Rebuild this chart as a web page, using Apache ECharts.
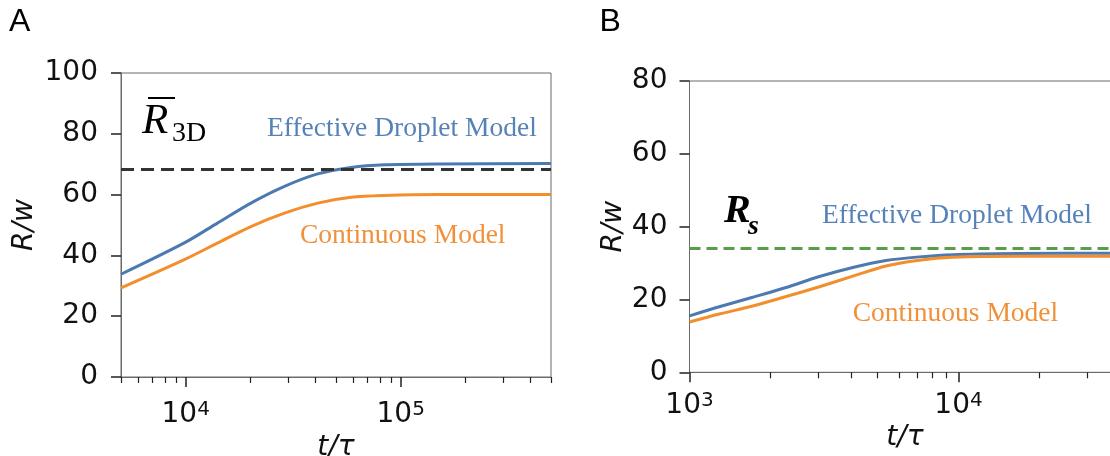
<!DOCTYPE html>
<html>
<head>
<meta charset="utf-8">
<script src="https://cdn.jsdelivr.net/npm/echarts@6/dist/echarts.min.js"></script>
<style>
html,body{margin:0;padding:0;background:#fff;overflow:hidden;}
#main{width:1140px;height:456px;}
</style>
</head>
<body>
<div id="main"></div>
<script>
// ---- Panel A data ----
const tA = [5000, 9850, 14100, 20100, 28800, 41100, 58800, 84000, 150000, 500000];
const edmA = [33.8, 44.1, 50.7, 57.2, 62.7, 66.8, 68.9, 69.8, 70.1, 70.2];
const contA = [29.3, 38.6, 44.1, 49.5, 53.9, 57.2, 59.1, 59.7, 60.0, 60.0];
const refA = 68.5;
const xRangeA = [5000, 500000];
const yRangeA = [0, 100];
const majorTicksA = [10000, 100000];
const minorTicksA = [5000, 6000, 7000, 8000, 9000, 20000, 30000, 40000, 50000, 60000, 70000, 80000, 90000, 200000, 300000, 400000, 500000];

// ---- Panel B data ----
const tB = [1000, 1290, 1718, 2286, 3040, 4045, 5375, 7150, 9500, 16800, 35300, 40000];
const edmB = [15.5, 18.0, 20.6, 23.3, 26.3, 28.8, 30.7, 31.7, 32.3, 32.6, 32.7, 32.7];
const contB = [13.8, 16.0, 18.2, 20.8, 23.5, 26.4, 29.2, 30.8, 31.6, 31.9, 31.9, 31.9];
const refB = 34.1;
const xRangeB = [1000, 40000];
const yRangeB = [0, 80];
const majorTicksB = [1000, 10000];
const minorTicksB = [2000, 3000, 4000, 5000, 6000, 7000, 8000, 9000, 20000, 30000, 40000];

const yTickStep = 20;

const BLUE = '#4c7ab0', ORANGE = '#f28e2b', BLUE_T = '#5582b8', ORANGE_T = '#f0913a';
const GREEN = '#5a9c48', DARK = '#333333';
const SANS = '"DejaVu Sans"';
const SERIF = '"Liberation Serif"';

function pair(xs, ys) { return xs.map((x, i) => [x, ys[i]]); }
function supLabel(v) { return '{b|10}{s|' + Math.round(Math.log10(v)) + '}'; }

const richSup = {
  b: {fontFamily: SANS, fontSize: 28, lineHeight: 30, color: '#111'},
  s: {fontFamily: SANS, fontSize: 20, lineHeight: 16, verticalAlign: 'top', color: '#111'}
};

function mainX(grid, range, majors, margin, nameGap) {
  return {
    type: 'log', logBase: 10, gridIndex: grid, position: 'bottom',
    min: range[0], max: range[1],
    axisLine: {show: true, lineStyle: {color: '#6a6a6a', width: 1}},
    axisTick: {show: true, length: 10, lineStyle: {color: '#222', width: 1.5}, customValues: majors},
    axisLabel: {show: true, margin: margin, customValues: majors, formatter: supLabel, rich: richSup},
    splitLine: {show: false}, minorTick: {show: false},
    name: 't/τ', nameLocation: 'middle', nameGap: nameGap,
    nameTextStyle: {fontFamily: SANS, fontSize: 28, fontStyle: 'italic', color: '#111'}
  };
}
function minorX(grid, range, minors) {
  return {
    type: 'log', logBase: 10, gridIndex: grid, position: 'bottom',
    min: range[0], max: range[1],
    axisLine: {show: false},
    axisTick: {show: true, length: 6, lineStyle: {color: '#222', width: 1.2}, customValues: minors},
    axisLabel: {show: false},
    splitLine: {show: false}
  };
}
function mainY(grid, range, margin, nameGap) {
  return {
    type: 'value', gridIndex: grid, min: range[0], max: range[1], interval: yTickStep,
    axisLine: {show: true, lineStyle: {color: '#6a6a6a', width: 1}},
    axisTick: {show: true, length: 10, lineStyle: {color: '#222', width: 1.5}},
    axisLabel: {margin: margin, fontFamily: SANS, fontSize: 28, color: '#111'},
    splitLine: {show: false},
    name: 'R/w', nameLocation: 'middle', nameGap: nameGap,
    nameTextStyle: {fontFamily: SANS, fontSize: 28, fontStyle: 'italic', color: '#111'}
  };
}
function curve(name, xi, yi, xs, ys, color) {
  return {
    name: name, type: 'line', xAxisIndex: xi, yAxisIndex: yi,
    data: pair(xs, ys), showSymbol: false, symbol: 'none',
    smooth: 0.3,
    lineStyle: {color: color, width: 3}, z: 3
  };
}
function refLine(xi, yi, val, color, dash, width) {
  return {
    type: 'line', xAxisIndex: xi, yAxisIndex: yi, data: [], z: 4,
    markLine: {
      silent: true, symbol: ['none', 'none'], label: {show: false},
      lineStyle: {color: color, type: dash, width: width},
      data: [{yAxis: val}]
    }
  };
}
function txt(x, y, text, font, color) {
  return {type: 'text', x: x, y: y, z: 10,
    style: {text: text, font: font, fill: color, align: 'left', verticalAlign: 'middle'}};
}

const option = {
  animation: false,
  backgroundColor: '#fff',
  grid: [
    {left: 121, top: 73, width: 430, height: 304, containLabel: false, outerBoundsMode: 'none',
     show: true, borderColor: '#6a6a6a', borderWidth: 1, backgroundColor: 'transparent'},
    {left: 689.5, top: 81, width: 431, height: 291.3, containLabel: false, outerBoundsMode: 'none',
     show: true, borderColor: '#6a6a6a', borderWidth: 1, backgroundColor: 'transparent'}
  ],
  xAxis: [
    mainX(0, xRangeA, majorTicksA, 23, 57),
    minorX(0, xRangeA, minorTicksA),
    mainX(1, xRangeB, majorTicksB, 18, 51),
    minorX(1, xRangeB, minorTicksB)
  ],
  yAxis: [
    mainY(0, yRangeA, 23, 82),
    mainY(1, yRangeB, 22, 61)
  ],
  series: [
    curve('Effective Droplet Model', 0, 0, tA, edmA, BLUE),
    curve('Continuous Model', 0, 0, tA, contA, ORANGE),
    refLine(0, 0, refA, DARK, [13, 7], 3.2),
    curve('Effective Droplet Model', 2, 1, tB, edmB, BLUE),
    curve('Continuous Model', 2, 1, tB, contB, ORANGE),
    refLine(2, 1, refB, GREEN, [11, 6], 3)
  ],
  graphic: [
    txt(9, 22, 'A', '32px "Liberation Sans"', '#000'),
    txt(599.5, 22, 'B', '32px "Liberation Sans"', '#000'),
    txt(142, 121.5, 'R', 'italic 43px ' + SERIF, '#000'),
    txt(172, 134, '3D', '28px ' + SERIF, '#000'),
    {type: 'line', z: 10, shape: {x1: 148, y1: 98, x2: 175, y2: 98}, style: {stroke: '#000', lineWidth: 2}},
    txt(267, 128.5, 'Effective Droplet Model', '27.5px ' + SERIF, BLUE_T),
    txt(300, 235.5, 'Continuous Model', '27.5px ' + SERIF, ORANGE_T),
    txt(724, 211.5, 'R', 'italic bold 40px ' + SERIF, '#000'),
    txt(748, 226.5, 's', 'italic bold 28px ' + SERIF, '#000'),
    txt(822, 216, 'Effective Droplet Model', '27.5px ' + SERIF, BLUE_T),
    txt(852.7, 313.4, 'Continuous Model', '27.5px ' + SERIF, ORANGE_T)
  ]
};

const chart = echarts.init(document.getElementById('main'), null, {renderer: 'canvas'});
chart.setOption(option);
</script>
</body>
</html>
